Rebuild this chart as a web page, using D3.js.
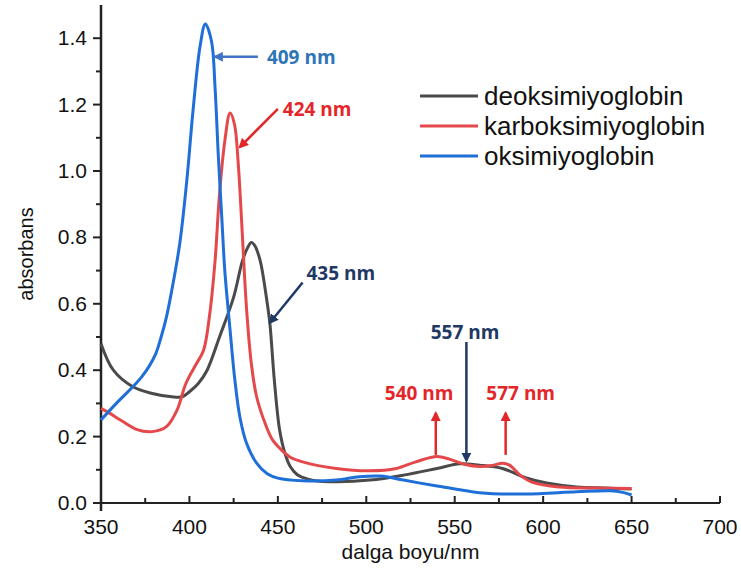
<!DOCTYPE html>
<html>
<head>
<meta charset="utf-8">
<script src="https://cdn.jsdelivr.net/npm/d3@7"></script>
<style>
  body { margin: 0; background: #fff; }
  text { font-family: "Liberation Sans", Arial, sans-serif; }
  text.peak { font-family: "Open Sans", sans-serif; font-weight: 700; }
</style>
</head>
<body>
<div id="chart"></div>
<script>
// spectra (wavelength nm, absorbance)
const deoksiNm  = [350, 357, 368, 379, 390, 396, 400, 405, 410, 417, 425, 430, 433, 435, 437, 440, 443.5, 445.5, 448, 451, 454, 457, 461, 464, 470, 483, 502, 521, 540, 553, 564, 577, 590, 602, 619, 635, 650];
const deoksiAbs = [0.48, 0.40, 0.35, 0.33, 0.32, 0.32, 0.335, 0.36, 0.40, 0.50, 0.62, 0.73, 0.77, 0.785, 0.775, 0.73, 0.62, 0.54, 0.37, 0.22, 0.15, 0.11, 0.085, 0.077, 0.068, 0.064, 0.069, 0.084, 0.104, 0.118, 0.114, 0.104, 0.076, 0.06, 0.048, 0.045, 0.042];

const karboNm  = [350, 355, 361, 370, 379, 387, 393, 398, 404, 408, 411.5, 414.5, 417, 420, 423, 425.5, 427.5, 429.5, 431, 432.5, 435, 438, 443.5, 447, 452, 457, 464, 483, 502, 517, 528, 540, 547, 556, 564, 571, 577, 581, 587, 594, 609, 630, 650];
const karboAbs = [0.285, 0.27, 0.25, 0.222, 0.215, 0.23, 0.28, 0.36, 0.42, 0.46, 0.57, 0.73, 0.93, 1.09, 1.175, 1.14, 1.03, 0.85, 0.70, 0.57, 0.42, 0.32, 0.23, 0.19, 0.16, 0.138, 0.124, 0.104, 0.097, 0.104, 0.124, 0.14, 0.132, 0.116, 0.11, 0.113, 0.12, 0.114, 0.084, 0.062, 0.048, 0.045, 0.044];

const oksiNm  = [350, 356, 362, 368, 373, 377, 381, 384, 387, 390, 394.5, 398.5, 402, 406, 409, 412.5, 414.5, 416.3, 418.5, 420, 423, 425.7, 428.5, 432.3, 438, 444, 450, 464, 483, 496, 508, 521, 540, 553, 564, 590, 619, 638, 645, 650];
const oksiAbs = [0.25, 0.285, 0.318, 0.35, 0.38, 0.41, 0.45, 0.50, 0.56, 0.64, 0.78, 0.97, 1.18, 1.375, 1.443, 1.39, 1.25, 1.05, 0.84, 0.70, 0.52, 0.37, 0.26, 0.18, 0.12, 0.088, 0.075, 0.067, 0.069, 0.079, 0.081, 0.069, 0.051, 0.04, 0.031, 0.027, 0.034, 0.037, 0.032, 0.024];

const seriesNames  = ["deoksimiyoglobin", "karboksimiyoglobin", "oksimiyoglobin"];
const seriesColors = ["#4a4a4a", "#e5484a", "#1f6fd8"];

const xTicks = [350, 400, 450, 500, 550, 600, 650, 700];
const yTicks = [0, 0.2, 0.4, 0.6, 0.8, 1.0, 1.2, 1.4];

// peak labels: text position, arrow tail -> head (nm, absorbance)
const peakLabels = ["409 nm", "424 nm", "435 nm", "557 nm", "540 nm", "577 nm"];
const labelNm    = [443.8, 452.8, 466.2, 536.4, 510.5, 567.9];
const labelAbs   = [1.322, 1.166, 0.672, 0.493, 0.31, 0.31];
const arrowX1    = [438.7, 450, 464, 556.6, 539.3, 578.8];
const arrowY1    = [1.344, 1.187, 0.664, 0.485, 0.145, 0.145];
const arrowX2    = [414.4, 428.5, 445.5, 556.6, 539.3, 578.8];
const arrowY2    = [1.344, 1.072, 0.543, 0.127, 0.271, 0.271];
const labelColors = ["#2e75b6", "#e3262a", "#1f3864", "#1f3864", "#e3262a", "#e3262a"];
const arrowColors = ["#4472c4", "#e3262a", "#1f3864", "#1f3864", "#e3262a", "#e3262a"];

const width = 741, height = 575;
const x = d3.scaleLinear().domain([350, 700]).range([101, 720]);
const y = d3.scaleLinear().domain([0, 1.5]).range([503, 5]);

const svg = d3.select("#chart").append("svg")
    .attr("width", width)
    .attr("height", height);

// axes
const xAxis = svg.append("g").attr("transform", `translate(0,${y(0)})`);
xAxis.append("line").attr("x1", x(350) - 8).attr("x2", x(700)).attr("stroke", "#222").attr("stroke-width", 2);
xAxis.selectAll(".minor").data(d3.range(375, 700, 50)).join("line")
    .attr("x1", d => x(d)).attr("x2", d => x(d)).attr("y1", 0).attr("y2", -5)
    .attr("stroke", "#222").attr("stroke-width", 2);
xAxis.selectAll(".major").data(xTicks).join("line")
    .attr("x1", d => x(d)).attr("x2", d => x(d)).attr("y1", 0).attr("y2", d => d === 350 ? 8 : -7)
    .attr("stroke", "#222").attr("stroke-width", 2);
xAxis.selectAll("text").data(xTicks).join("text")
    .attr("x", d => x(d)).attr("y", 31)
    .attr("text-anchor", "middle").attr("font-size", 21).attr("fill", "#111")
    .text(d => d);

const yAxis = svg.append("g").attr("transform", `translate(${x(350)},0)`);
yAxis.append("line").attr("y1", y(1.5)).attr("y2", y(0) + 8).attr("stroke", "#222").attr("stroke-width", 2.5);
yAxis.selectAll(".minor").data(d3.range(0.1, 1.5, 0.2)).join("line")
    .attr("y1", d => y(d)).attr("y2", d => y(d)).attr("x1", 0).attr("x2", -5)
    .attr("stroke", "#222").attr("stroke-width", 2);
yAxis.selectAll(".major").data(yTicks).join("line")
    .attr("y1", d => y(d)).attr("y2", d => y(d)).attr("x1", 0).attr("x2", -8)
    .attr("stroke", "#222").attr("stroke-width", 2);
yAxis.selectAll("text").data(yTicks).join("text")
    .attr("x", -14).attr("y", d => y(d) + 7)
    .attr("text-anchor", "end").attr("font-size", 21).attr("fill", "#111")
    .text(d => d3.format(".1f")(d));

svg.append("text")
    .attr("x", (x(350) + x(700)) / 2).attr("y", 559)
    .attr("text-anchor", "middle").attr("font-size", 21).attr("fill", "#111")
    .text("dalga boyu/nm");
svg.append("text")
    .attr("transform", `translate(33,${y(0.75)}) rotate(-90)`)
    .attr("text-anchor", "middle").attr("font-size", 20).attr("fill", "#111")
    .text("absorbans");

// spectra
const line = d3.line()
    .x(d => x(d[0]))
    .y(d => y(d[1]))
    .curve(d3.curveCatmullRom.alpha(0.5));

const spectra = [
    d3.zip(deoksiNm, deoksiAbs),
    d3.zip(karboNm, karboAbs),
    d3.zip(oksiNm, oksiAbs)
];

svg.selectAll(".spectrum").data(spectra).join("path")
    .attr("class", "spectrum")
    .attr("d", line)
    .attr("fill", "none")
    .attr("stroke", (d, i) => seriesColors[i])
    .attr("stroke-width", 3)
    .attr("stroke-linejoin", "round");

// legend
const legend = svg.append("g");
seriesNames.forEach((name, i) => {
    const ly = 96 + i * 30;
    legend.append("line")
        .attr("x1", 420).attr("x2", 478).attr("y1", ly).attr("y2", ly)
        .attr("stroke", seriesColors[i]).attr("stroke-width", 3);
    legend.append("text")
        .attr("x", 484).attr("y", ly + 9)
        .attr("font-size", 26).attr("fill", "#111")
        .text(name);
});

// peak annotations
const defs = svg.append("defs");
arrowColors.forEach((c, i) => {
    defs.append("marker")
        .attr("id", "head" + i)
        .attr("viewBox", "0 0 10 10")
        .attr("refX", 8).attr("refY", 5)
        .attr("markerWidth", 4).attr("markerHeight", 4)
        .attr("markerUnits", "strokeWidth")
        .attr("orient", "auto")
        .append("path").attr("d", "M0,0 L10,5 L0,10 Z").attr("fill", c);
});

peakLabels.forEach((lab, i) => {
    svg.append("line")
        .attr("x1", x(arrowX1[i])).attr("y1", y(arrowY1[i]))
        .attr("x2", x(arrowX2[i])).attr("y2", y(arrowY2[i]))
        .attr("stroke", arrowColors[i]).attr("stroke-width", 2.5)
        .attr("marker-end", `url(#head${i})`);
    svg.append("text")
        .attr("class", "peak")
        .attr("x", x(labelNm[i])).attr("y", y(labelAbs[i]))
        .attr("font-size", 19)
        .attr("fill", labelColors[i])
        .text(lab);
});
</script>
</body>
</html>
